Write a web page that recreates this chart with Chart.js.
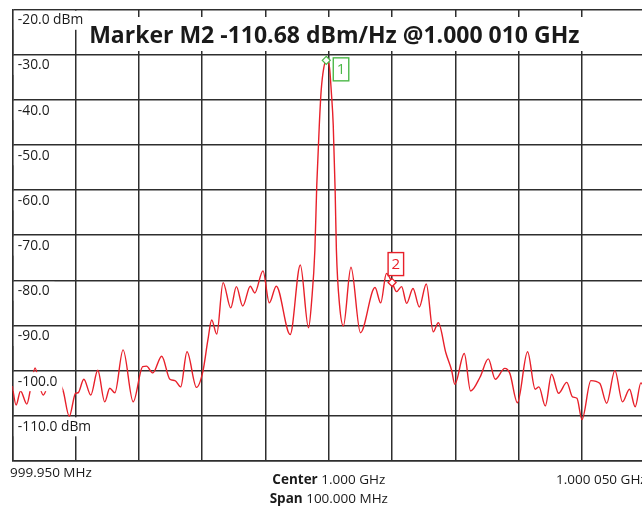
<!DOCTYPE html>
<html>
<head>
<meta charset="utf-8">
<script src="https://cdn.jsdelivr.net/npm/chart.js@4"></script>
<style>
  html, body { margin: 0; padding: 0; background: #fff; overflow: hidden; }
  #wrap { width: 642px; height: 508px; overflow: hidden; position: relative; }
  canvas { display: block; }
</style>
</head>
<body>
<div id="wrap"><canvas id="spectrum" width="662" height="508"></canvas></div>
<script>
// Trace: frequency offset from center (kHz) and level (dBm)
const freqOffsetKHz = [
  -50.0, -49.4, -48.7, -47.7, -47.1, -46.4, -45.7, -45.1, -44.4, -43.3,
  -42.0, -41.0, -40.0, -39.6, -38.7, -37.6, -36.5, -35.4, -34.6, -33.8,
  -32.5, -30.9, -29.4, -28.8, -27.8, -26.4, -25.1, -24.3, -23.4, -22.4,
  -20.9, -19.9, -19.1, -18.5, -17.7, -16.7, -15.5, -14.6, -13.6, -12.4,
  -11.7, -10.4, -9.4, -8.3, -6.1, -4.5, -3.2, -2.7, -2.2, -1.9,
  -1.5, -1.2, -0.8, -0.4, 0.1, 0.4, 0.7, 1.0, 1.2, 1.7,
  2.3, 3.5, 5.0, 7.3, 8.2, 9.1, 10.0, 10.7, 11.5, 12.3,
  13.3, 14.3, 15.4, 16.5, 17.3, 18.5, 19.4, 19.9, 21.4, 22.4,
  23.9, 25.2, 26.3, 27.8, 28.6, 29.8, 31.4, 32.6, 33.2, 34.2,
  35.2, 36.3, 37.6, 38.5, 39.2, 40.0, 41.4, 42.8, 43.9, 45.2,
  46.4, 47.5, 48.4, 49.3, 50.0
];
const traceDbm = [
  -103.4, -107.6, -104.5, -107.4, -103.9, -99.4, -103.4, -105.4, -103.4, -101.6,
  -104.3, -110.1, -105.0, -104.9, -101.9, -105.4, -99.9, -106.9, -103.9, -104.9,
  -95.4, -106.9, -99.1, -99.0, -100.5, -96.8, -101.9, -102.2, -103.6, -95.8,
  -103.7, -100.2, -93.2, -88.8, -91.9, -80.5, -86.1, -81.4, -85.7, -81.3,
  -82.8, -77.9, -85.0, -81.3, -92.0, -76.6, -90.5, -84.4, -73.3, -58.9,
  -45.6, -37.9, -33.0, -31.3, -32.8, -38.3, -45.6, -60.0, -73.3, -85.5,
  -90.1, -77.1, -91.6, -81.6, -85.0, -78.5, -80.5, -82.5, -81.4, -85.1,
  -81.8, -85.9, -80.8, -91.4, -89.4, -96.1, -99.9, -103.0, -96.2, -104.5,
  -101.4, -97.4, -101.9, -99.5, -100.6, -107.1, -95.8, -104.1, -103.6, -107.8,
  -100.8, -105.0, -102.6, -105.8, -106.1, -110.8, -102.2, -102.8, -107.2, -100.0,
  -106.9, -104.1, -108.0, -102.7, -104.5
];

// Markers
const markerNames = ['1', '2'];
const markerFreqKHz = [-0.4, 10.0];
const markerDbm = [-31.3, -80.5];
const markerColors = ['#4cb848', '#e8202a'];

// Reference level ticks
const yTickValues = [-20, -30, -40, -50, -60, -70, -80, -90, -100, -110];
const yTickLabels = ['-20.0 dBm', '-30.0', '-40.0', '-50.0', '-60.0', '-70.0', '-80.0', '-90.0', '-100.0', '-110.0 dBm'];

// Frequency annotations
const startLabel = '999.950 MHz';
const stopLabel = '1.000 050 GHz';
const centerLabel = ['Center', ' 1.000 GHz'];
const spanLabel = ['Span', ' 100.000 MHz'];
const titleText = 'Marker M2 -110.68 dBm/Hz @1.000 010 GHz';

const TEXT = '#1a1a1a';
const GRID = '#2e2e2e';
const FONT = '"Open Sans", "Noto Sans", sans-serif';

const overlay = {
  id: 'analyzerText',
  afterDatasetsDraw(chart) {
    const { ctx, scales: { x, y } } = chart;
    ctx.save();

    // level labels inside the grid, on white boxes
    ctx.font = '13.8px ' + FONT;
    ctx.textBaseline = 'middle';
    ctx.textAlign = 'left';
    yTickValues.forEach((v, i) => {
      const py = y.getPixelForValue(v);
      const w = ctx.measureText(yTickLabels[i]).width;
      ctx.fillStyle = '#fff';
      ctx.fillRect(x.left + 1.5, py + 1.5, w + 9, 19);
      ctx.fillStyle = TEXT;
      ctx.fillText(yTickLabels[i], x.left + 5.5, py + 11);
    });

    // title box
    ctx.font = 'bold 23px ' + FONT;
    ctx.textAlign = 'center';
    const cx = x.getPixelForValue(0) + 5.5;
    const tw = ctx.measureText(titleText).width;
    ctx.fillStyle = '#fff';
    ctx.fillRect(cx - tw / 2 - 4, 17, tw + 8, 34);
    ctx.fillStyle = TEXT;
    ctx.fillText(titleText, cx, 36);

    // marker tags
    ctx.font = '15px ' + FONT;
    ctx.lineWidth = 1.4;
    markerNames.forEach((name, i) => {
      const px = x.getPixelForValue(markerFreqKHz[i]);
      const py = y.getPixelForValue(markerDbm[i]);
      let bx, by;
      if (i === 0) { bx = px + 7; by = py - 2.5; }
      else { bx = px - 4; by = py - 30; }
      const bw = 15.5, bh = 23;
      ctx.fillStyle = '#fff';
      ctx.fillRect(bx, by, bw, bh);
      ctx.strokeStyle = markerColors[i];
      ctx.strokeRect(bx, by, bw, bh);
      ctx.fillStyle = markerColors[i];
      ctx.textAlign = 'center';
      ctx.fillText(name, bx + bw / 2, by + bh / 2 + 0.5);
    });

    // frequency annotations below the grid
    ctx.textAlign = 'left';
    ctx.fillStyle = TEXT;
    ctx.font = '13.5px ' + FONT;
    ctx.fillText(startLabel, 10, 473);
    ctx.fillText(stopLabel, 556, 480);

    const drawPair = (pair, centerX, py) => {
      ctx.font = 'bold 13.5px ' + FONT;
      const w1 = ctx.measureText(pair[0]).width;
      ctx.font = '13.5px ' + FONT;
      const w2 = ctx.measureText(pair[1]).width;
      const sx = centerX - (w1 + w2) / 2;
      ctx.font = 'bold 13.5px ' + FONT;
      ctx.fillText(pair[0], sx, py);
      ctx.font = '13.5px ' + FONT;
      ctx.fillText(pair[1], sx + w1, py);
    };
    const midX = x.getPixelForValue(0);
    drawPair(centerLabel, midX, 480);
    drawPair(spanLabel, midX, 499);

    ctx.restore();
  }
};

const chart = new Chart(document.getElementById('spectrum'), {
  data: {
    datasets: [
      {
        type: 'scatter',
        order: 0,
        data: markerFreqKHz.map((f, i) => ({ x: f, y: markerDbm[i] })),
        pointStyle: 'rectRot',
        pointRadius: 4,
        pointBorderWidth: 1.3,
        pointBorderColor: markerColors,
        pointBackgroundColor: '#fff'
      },
      {
        type: 'line',
        order: 1,
        data: freqOffsetKHz.map((f, i) => ({ x: f, y: traceDbm[i] })),
        borderColor: '#e8202a',
        borderWidth: 1.4,
        pointRadius: 0,
        fill: false,
        cubicInterpolationMode: 'monotone'
      }
    ]
  },
  options: {
    responsive: false,
    animation: false,
    devicePixelRatio: 1,
    layout: { padding: { left: 12.3, top: 9.3, right: 16.7, bottom: 47 } },
    plugins: { legend: { display: false }, tooltip: { enabled: false }, title: { display: false } },
    scales: {
      x: {
        type: 'linear', min: -50, max: 50,
        ticks: { display: false, stepSize: 10 },
        grid: { color: GRID, lineWidth: 1.5, drawTicks: false, tickLength: 0 },
        border: { display: true, color: GRID, width: 1.5 }
      },
      y: {
        type: 'linear', min: -120, max: -20,
        ticks: { display: false, stepSize: 10 },
        grid: { color: GRID, lineWidth: 1.5, drawTicks: false, tickLength: 0 },
        border: { display: true, color: GRID, width: 1.5 }
      }
    }
  },
  plugins: [overlay]
});
</script>
</body>
</html>
